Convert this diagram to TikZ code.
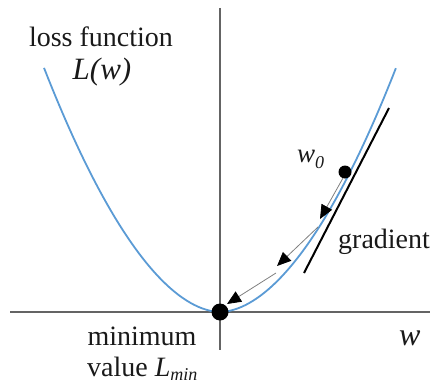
\documentclass[tikz,border=0pt]{standalone}
\usepackage{fontspec}
\setmainfont{Liberation Serif}
\usetikzlibrary{arrows.meta}
\definecolor{curveblue}{RGB}{91,155,213}
\definecolor{axisgray}{RGB}{100,100,100}
\definecolor{txt}{RGB}{25,25,25}
\tikzset{
  axisline/.style={draw=axisgray, line width=1.8pt},
  losscurve/.style={draw=curveblue, line width=1.8pt},
  tangentline/.style={draw=black, line width=2pt},
  steparrow/.style={draw=gray, line width=0.8pt, -{Triangle[length=14pt,width=12pt,color=black]}},
  dotnode/.style={circle, fill=black, inner sep=0pt},
  lbl/.style={text=txt, inner sep=0pt, font=\fontsize{28}{32}\selectfont},
  ilbl/.style={text=txt, inner sep=0pt, font=\fontsize{31}{34}\selectfont\itshape},
}
\begin{document}
\begin{tikzpicture}[x=1pt,y=-1pt]
\useasboundingbox (0,0) rectangle (435,385);
% axes
\coordinate (yt) at (220,8);
\coordinate (yb) at (220,350);
\coordinate (xl) at (10,312);
\coordinate (xr) at (430,312);
\draw[axisline] (yt) -- (yb);
\draw[axisline] (xl) -- (xr);
% loss curve
\draw[losscurve] plot[domain=-1.76:1.76, samples=90, smooth] ({220+100*\x},{312-86.3*abs(\x)^1.84});
% tangent
\coordinate (t1) at (389,108);
\coordinate (t2) at (304,273);
\draw[tangentline] (t1) -- (t2);
% dots
\node[dotnode, minimum size=13pt] (w0) at (345,172) {};
\node[dotnode, minimum size=17pt] (min) at (220,312) {};
% step arrows
\coordinate (a1s) at (343,178);
\coordinate (a1e) at (320,219);
\coordinate (a2s) at (318,227);
\coordinate (a2e) at (277,266);
\coordinate (a3s) at (276,273);
\coordinate (a3e) at (227,304);
\draw[steparrow] (a1s) -- (a1e);
\draw[steparrow] (a2s) -- (a2e);
\draw[steparrow] (a3s) -- (a3e);
% labels
\node[lbl, anchor=base] (lossf) at (101,47) {loss function};
\node[ilbl, anchor=base] (Lw) at (102,80) {L(w)};
\node[anchor=base west, text=txt, inner sep=0pt, font=\fontsize{27}{29}\selectfont\itshape] (w0lbl) at (297,162) {w\raisebox{-6pt}{\fontsize{18}{18}\selectfont 0}};
\node[lbl, anchor=base west] (grad) at (338,248) {gradient};
\node[lbl, anchor=base] (minlbl) at (142,345) {minimum};
\node[lbl, anchor=base west] (vallbl) at (87,376) {value \textit{L}\raisebox{-4.5pt}{\fontsize{18}{18}\selectfont\itshape min}};
\node[ilbl, anchor=base west, font=\fontsize{32}{34}\selectfont\itshape] (wlbl) at (399,345) {w};
\end{tikzpicture}
\end{document}
